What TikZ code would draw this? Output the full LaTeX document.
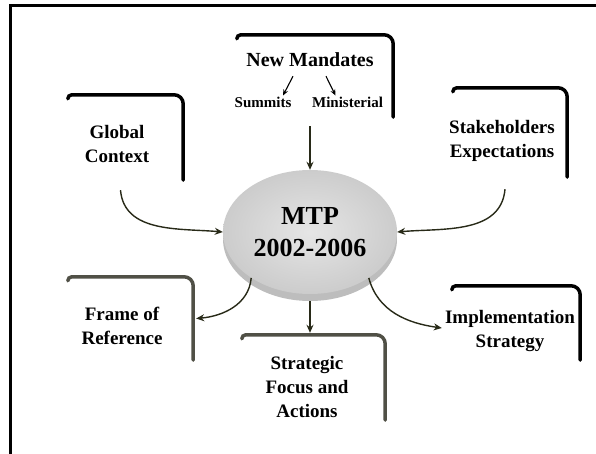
\documentclass[tikz,border=0pt]{standalone}
\usepackage{fontspec}
\setmainfont{Liberation Serif}
\usetikzlibrary{shapes.geometric, arrows.meta}
\definecolor{arrowcol}{RGB}{40,42,24}
\definecolor{greybar}{RGB}{80,80,70}
\tikzstyle{title} = [font=\fontsize{19}{24}\selectfont\bfseries, align=center, inner sep=1pt]
\tikzstyle{small} = [font=\fontsize{15}{17}\selectfont\bfseries, inner sep=1pt]
\tikzstyle{boxarea} = [rectangle, inner sep=0pt]
\tikzstyle{bracket} = [line width=3.5pt, line cap=round]
\tikzstyle{arrow} = [line width=1.4pt, color=arrowcol, -{Stealth[length=8pt,width=7pt]}]
\tikzstyle{tinyarrow} = [line width=1.1pt, -{Stealth[length=6pt,width=5pt]}]
\tikzstyle{mtpdisc} = [ellipse, minimum width=174pt, minimum height=124pt, shade, inner color=gray!20, outer color=gray!40, font=\fontsize{26}{32}\selectfont\bfseries, align=center]
\newcommand{\bracketline}[2][black]{\draw[bracket, #1, rounded corners=4pt] ([yshift=-4pt]#2.north west) -- (#2.north west) [rounded corners=9pt] -- (#2.north east) -- (#2.south east);}

\begin{document}
\begin{tikzpicture}[x=1pt, y=1pt]
    \useasboundingbox (0,0) rectangle (596,-454);
    % outer frame
    \draw[line width=3pt] (10,-470) -- (10,-6) -- (610,-6);

    % areas of the bracket boxes
    \node (mandbox) [boxarea, minimum width=156pt, minimum height=82pt] at (315,-76) {};
    \node (globbox) [boxarea, minimum width=115pt, minimum height=85pt] at (125.5,-137.5) {};
    \node (stakbox) [boxarea, minimum width=114pt, minimum height=89pt] at (510,-132.5) {};
    \node (frambox) [boxarea, minimum width=125pt, minimum height=83pt] at (130.5,-318.5) {};
    \node (stratbox) [boxarea, minimum width=143pt, minimum height=85pt] at (313.5,-377.5) {};
    \node (implbox) [boxarea, minimum width=128pt, minimum height=74pt] at (516,-323) {};

    \bracketline{mandbox}
    \bracketline{globbox}
    \bracketline{stakbox}
    \bracketline[greybar]{frambox}
    \bracketline[greybar]{stratbox}
    \bracketline{implbox}

    % labels
    \node (mandtxt) [title, font=\fontsize{20}{24}\selectfont\bfseries] at (310,-60) {New Mandates};
    \node (summ) [small] at (263,-102) {Summits};
    \node (mini) [small] at (347.5,-102) {Ministerial};
    \node (globtxt) [title] at (117,-144) {Global\\Context};
    \node (staktxt) [title] at (502,-141) {Stakeholders\\Expectations};
    \node (framtxt) [title] at (122,-326) {Frame of\\Reference};
    \node (strattxt) [title] at (307,-387) {Strategic\\Focus and\\Actions};
    \node (impltxt) [title] at (510,-331) {Implementation\\Strategy};

    % the MTP disc
    \fill[gray!52] (310,-239) ellipse (87 and 62);
    \node (mtp) [mtpdisc] at (310,-232) {MTP\\2002-2006};

    \draw[tinyarrow] ([shift={(-17pt,-8pt)}]mandtxt.south) -- ([xshift=20pt]summ.north);
    \draw[tinyarrow] ([shift={(16pt,-8pt)}]mandtxt.south) -- ([xshift=-12pt]mini.north);

    \draw[arrow] ([yshift=-9pt]mandbox.south -| mtp.north) -- (mtp.north);
    \draw[arrow] ([shift={(-5pt,-10pt)}]globbox.south) to[out=-85, in=175] (mtp.west);
    \draw[arrow] ([shift={(-5pt,-12pt)}]stakbox.south) to[out=-95, in=5] (mtp.east);
    \draw[arrow] (mtp.218) to[out=-95, in=5] ([xshift=3pt]frambox.east);
    \draw[arrow] ([yshift=-7pt]mtp.south) -- ([yshift=2pt]stratbox.north -| mtp.south);
    \draw[arrow] (mtp.-38) to[out=-75, in=172] ([shift={(-10pt,-5pt)}]implbox.west);
\end{tikzpicture}
\end{document}
